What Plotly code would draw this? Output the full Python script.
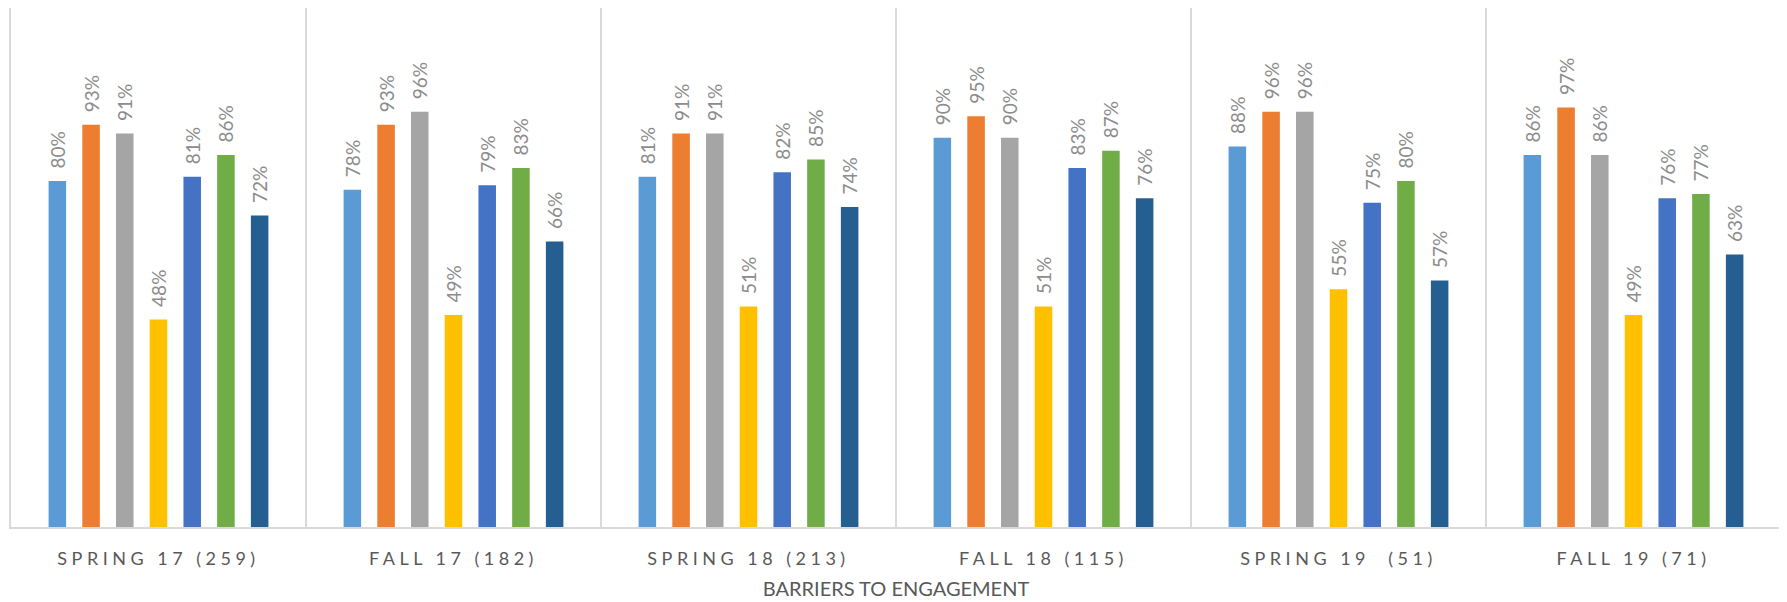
import plotly.graph_objects as go

categories = ["SPRING 17 (259)", "FALL 17 (182)", "SPRING 18 (213)",
              "FALL 18 (115)", "SPRING 19  (51)", "FALL 19 (71)"]

series_names = ["Barrier 1", "Barrier 2", "Barrier 3", "Barrier 4",
                "Barrier 5", "Barrier 6", "Barrier 7"]

barrier1 = [80, 78, 81, 90, 88, 86]
barrier2 = [93, 93, 91, 95, 96, 97]
barrier3 = [91, 96, 91, 90, 96, 86]
barrier4 = [48, 49, 51, 51, 55, 49]
barrier5 = [81, 79, 82, 83, 75, 76]
barrier6 = [86, 83, 85, 87, 80, 77]
barrier7 = [72, 66, 74, 76, 57, 63]

series_values = [barrier1, barrier2, barrier3, barrier4, barrier5, barrier6, barrier7]
colors = ["#5B9BD5", "#ED7D31", "#A5A5A5", "#FFC000", "#4472C4", "#70AD47", "#255E91"]

axis_title = "BARRIERS TO ENGAGEMENT"

fig = go.Figure()
for name, vals, col in zip(series_names, series_values, colors):
    fig.add_trace(go.Bar(
        x=categories, y=vals, name=name,
        marker=dict(color=col, line=dict(width=0)),
        text=[f"\u2002{v}%" for v in vals],
        textposition="outside", textangle=-90,
        constraintext="none", cliponaxis=False,
        textfont=dict(family="Lato", size=19, color="#8C8C8C"),
    ))

fig.update_layout(
    width=1787, height=602,
    margin=dict(l=3, r=14, t=0, b=83),
    barmode="group", bargap=0.2, bargroupgap=0.48,
    showlegend=False,
    plot_bgcolor="white", paper_bgcolor="white",
    font=dict(family="Lato", color="#595959"),
    xaxis=dict(
        type="category", tickson="boundaries", showgrid=True,
        gridcolor="#D9D9D9", gridwidth=2, ticks="",
        showline=True, linecolor="#D9D9D9", linewidth=2,
        ticklabelstandoff=14,
        tickfont=dict(family="Lato", size=18, color="#595959"),
        title=dict(text=axis_title, standoff=14,
                   font=dict(family="Lato", size=20, color="#595959")),
    ),
    yaxis=dict(
        range=[0, 120], showgrid=False, zeroline=False,
        showticklabels=False, ticks="",
        showline=True, linecolor="#D9D9D9", linewidth=2, mirror=True,
    ),
)

post = """
var s=document.createElement('style');
s.innerHTML='.xtick text{letter-spacing:4.5px;}';
document.head.appendChild(s);
"""
fig.write_html("out.html", post_script=post)
